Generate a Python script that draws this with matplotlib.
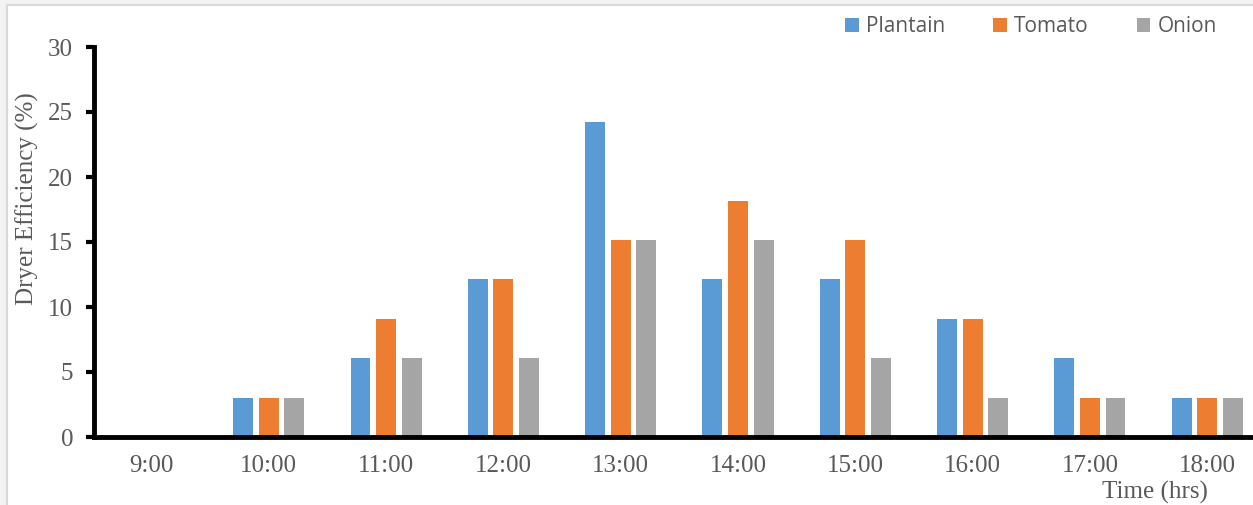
import matplotlib.pyplot as plt
import numpy as np
from matplotlib.patches import Rectangle

times = ["9:00", "10:00", "11:00", "12:00", "13:00", "14:00", "15:00", "16:00", "17:00", "18:00"]
plantain = [0, 3.03, 6.06, 12.12, 24.24, 12.12, 12.12, 9.09, 6.06, 3.03]
tomato = [0, 3.03, 9.09, 12.12, 15.15, 18.18, 15.15, 9.09, 3.03, 3.03]
onion = [0, 3.03, 6.06, 6.06, 15.15, 15.15, 6.06, 3.03, 3.03, 3.03]

series = [("Plantain", plantain, "#5B9BD5"),
          ("Tomato", tomato, "#ED7D31"),
          ("Onion", onion, "#A5A5A5")]

W, H = 1253, 505
fig = plt.figure(figsize=(W / 100, H / 100), dpi=100, facecolor="#f3f3f3")
# white chart area with a light frame
fig.patches.append(Rectangle((7 / W, -0.05), 1.05, 1 - 5 / H + 0.05,
                             transform=fig.transFigure, facecolor="white",
                             edgecolor="#d9d9d9", linewidth=1.5, zorder=-10))

ax = fig.add_axes([94 / W, 1 - 437 / H, 1 - 94 / W, (437 - 47) / H])
ax.set_facecolor("none")

x = np.arange(len(times))
bw = 0.17
step = 0.218
for i, (name, vals, col) in enumerate(series):
    ax.bar(x + (i - 1) * step, vals, width=bw, color=col, label=name, zorder=2)

ax.set_xlim(-0.49, 9.39)
ax.set_ylim(0, 30)
ax.set_yticks(range(0, 31, 5))
ax.set_xticks(x)
ax.set_xticklabels(times)

serif = "Liberation Serif"
grey = "#595959"
fs = 18
for lab in ax.get_xticklabels() + ax.get_yticklabels():
    lab.set_fontfamily(serif)
    lab.set_fontsize(fs)
    lab.set_color(grey)

ax.tick_params(axis="y", direction="out", length=6, width=3, pad=9, color="black")
ax.tick_params(axis="x", length=0, pad=13)
for s in ["top", "right"]:
    ax.spines[s].set_visible(False)
ax.spines["left"].set_linewidth(3.5)
ax.spines["bottom"].set_linewidth(3.5)

fig.text(27 / W, 1 - 199 / H, "Dryer Efficiency (%)", fontfamily=serif, fontsize=fs,
         color=grey, rotation=90, ha="center", va="center")
fig.text(1155 / W, 1 - 492 / H, "Time (hrs)", fontfamily=serif, fontsize=fs,
         color=grey, ha="center", va="center")

leg = fig.legend(loc="center", bbox_to_anchor=(1031 / W, 1 - 27 / H), ncol=3,
                 frameon=False, prop={"family": "Open Sans", "size": 15},
                 handlelength=0.65, handleheight=0.65, handletextpad=0.35,
                 columnspacing=2.3)
for t in leg.get_texts():
    t.set_color(grey)

fig.savefig("out.png", dpi=100, facecolor=fig.get_facecolor())
